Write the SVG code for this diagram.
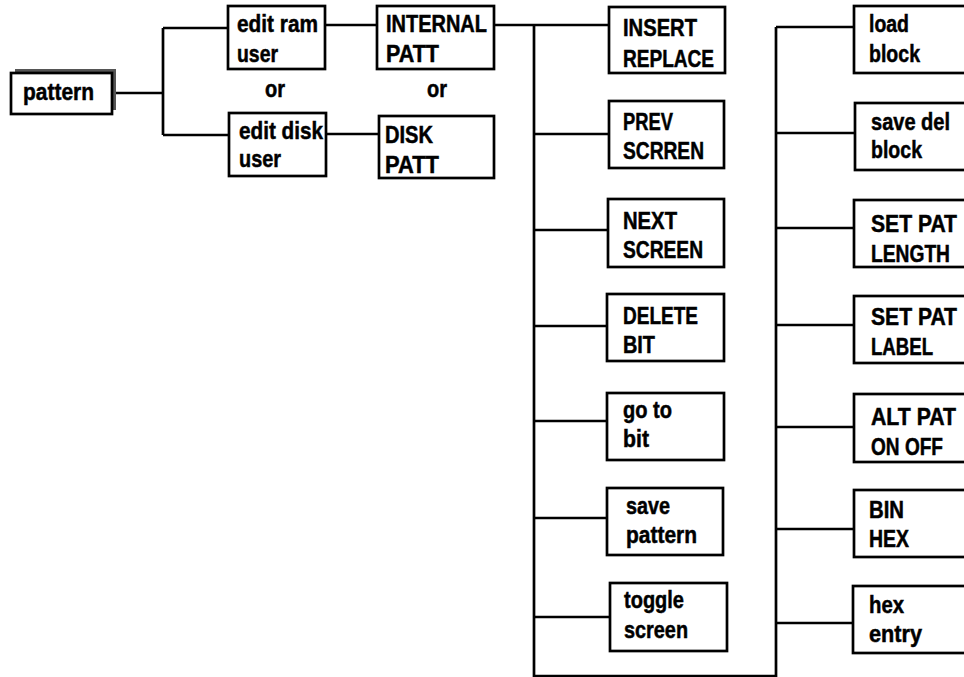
<svg xmlns="http://www.w3.org/2000/svg" width="964" height="677" viewBox="0 0 964 677">
<style>
.box{fill:#fff;stroke:#000;stroke-width:2.7}
.t{font-family:"Liberation Sans",Arial,sans-serif;font-weight:bold;font-size:24px;fill:#000;stroke:#000;stroke-width:0.5}
.c{fill:none;stroke:#000;stroke-width:2.7}
</style>
<rect width="964" height="677" fill="#fff"/>
<g id="connectors">
<path class="c" d="M112,93 H163 M163,28 V135 M163,28 H228 M163,135 H229"/>
<path class="c" d="M325,25 H377 M326,134 H379"/>
<path class="c" d="M494,25 H609 M534,25 V676 H776 V27"/>
<path class="c" d="M534,134 H609 M534,230 H608 M534,326 H607 M534,421 H607 M534,518 H607 M534,617 H610"/>
<path class="c" d="M776,27 H854 M776,133 H855 M776,228 H854 M776,325 H854 M776,427 H854 M776,529 H854 M776,623 H853"/>
</g>
<g id="pattern">
<rect x="15" y="69" width="101" height="41" fill="#555"/>
<rect class="box" x="11" y="73" width="101" height="41"/>
<text class="t" x="23" y="100" textLength="71" lengthAdjust="spacingAndGlyphs">pattern</text>
</g>
<g id="edit-ram">
<rect class="box" x="228" y="6" width="97" height="63"/>
<text class="t" x="237" y="32" textLength="81" lengthAdjust="spacingAndGlyphs">edit ram</text>
<text class="t" x="237" y="62" textLength="41" lengthAdjust="spacingAndGlyphs">user</text>
</g>
<g id="or1"><text class="t" x="265" y="97" textLength="20" lengthAdjust="spacingAndGlyphs">or</text></g>
<g id="edit-disk">
<rect class="box" x="229" y="113" width="97" height="63"/>
<text class="t" x="239" y="139" textLength="84" lengthAdjust="spacingAndGlyphs">edit disk</text>
<text class="t" x="239" y="167" textLength="42" lengthAdjust="spacingAndGlyphs">user</text>
</g>
<g id="internal-patt">
<rect class="box" x="377" y="6" width="117" height="63"/>
<text class="t" x="386" y="32" textLength="101" lengthAdjust="spacingAndGlyphs">INTERNAL</text>
<text class="t" x="386" y="62" textLength="53" lengthAdjust="spacingAndGlyphs">PATT</text>
</g>
<g id="or2"><text class="t" x="427" y="97" textLength="20" lengthAdjust="spacingAndGlyphs">or</text></g>
<g id="disk-patt">
<rect class="box" x="379" y="116" width="115" height="62"/>
<text class="t" x="385" y="143" textLength="48" lengthAdjust="spacingAndGlyphs">DISK</text>
<text class="t" x="385" y="173" textLength="54" lengthAdjust="spacingAndGlyphs">PATT</text>
</g>
<g id="insert-replace">
<rect class="box" x="609" y="7" width="116" height="66"/>
<text class="t" x="623" y="36" textLength="74" lengthAdjust="spacingAndGlyphs">INSERT</text>
<text class="t" x="623" y="67" textLength="91" lengthAdjust="spacingAndGlyphs">REPLACE</text>
</g>
<g id="prev-screen">
<rect class="box" x="609" y="101" width="115" height="67"/>
<text class="t" x="623" y="130" textLength="50" lengthAdjust="spacingAndGlyphs">PREV</text>
<text class="t" x="623" y="159" textLength="81" lengthAdjust="spacingAndGlyphs">SCRREN</text>
</g>
<g id="next-screen">
<rect class="box" x="608" y="199" width="116" height="68"/>
<text class="t" x="623" y="229" textLength="54" lengthAdjust="spacingAndGlyphs">NEXT</text>
<text class="t" x="623" y="258" textLength="80" lengthAdjust="spacingAndGlyphs">SCREEN</text>
</g>
<g id="delete-bit">
<rect class="box" x="607" y="294" width="117" height="67"/>
<text class="t" x="623" y="324" textLength="75" lengthAdjust="spacingAndGlyphs">DELETE</text>
<text class="t" x="623" y="353" textLength="32" lengthAdjust="spacingAndGlyphs">BIT</text>
</g>
<g id="go-to-bit">
<rect class="box" x="607" y="393" width="117" height="67"/>
<text class="t" x="623" y="418" textLength="49" lengthAdjust="spacingAndGlyphs">go to</text>
<text class="t" x="623" y="447" textLength="26" lengthAdjust="spacingAndGlyphs">bit</text>
</g>
<g id="save-pattern">
<rect class="box" x="607" y="488" width="116" height="67"/>
<text class="t" x="626" y="514" textLength="44" lengthAdjust="spacingAndGlyphs">save</text>
<text class="t" x="626" y="543" textLength="71" lengthAdjust="spacingAndGlyphs">pattern</text>
</g>
<g id="toggle-screen">
<rect class="box" x="610" y="583" width="117" height="68"/>
<text class="t" x="624" y="608" textLength="60" lengthAdjust="spacingAndGlyphs">toggle</text>
<text class="t" x="624" y="638" textLength="64" lengthAdjust="spacingAndGlyphs">screen</text>
</g>
<g id="load-block">
<rect class="box" x="854" y="6" width="120" height="67"/>
<text class="t" x="869" y="32" textLength="40" lengthAdjust="spacingAndGlyphs">load</text>
<text class="t" x="869" y="62" textLength="51" lengthAdjust="spacingAndGlyphs">block</text>
</g>
<g id="save-del-block">
<rect class="box" x="855" y="103" width="120" height="67"/>
<text class="t" x="871" y="130" textLength="79" lengthAdjust="spacingAndGlyphs">save del</text>
<text class="t" x="871" y="158" textLength="51" lengthAdjust="spacingAndGlyphs">block</text>
</g>
<g id="set-pat-length">
<rect class="box" x="854" y="200" width="120" height="67"/>
<text class="t" x="871" y="232" textLength="86" lengthAdjust="spacingAndGlyphs">SET PAT</text>
<text class="t" x="871" y="262" textLength="79" lengthAdjust="spacingAndGlyphs">LENGTH</text>
</g>
<g id="set-pat-label">
<rect class="box" x="854" y="296" width="120" height="67"/>
<text class="t" x="871" y="325" textLength="86" lengthAdjust="spacingAndGlyphs">SET PAT</text>
<text class="t" x="871" y="355" textLength="62" lengthAdjust="spacingAndGlyphs">LABEL</text>
</g>
<g id="alt-pat">
<rect class="box" x="854" y="394" width="120" height="68"/>
<text class="t" x="871" y="425" textLength="85" lengthAdjust="spacingAndGlyphs">ALT PAT</text>
<text class="t" x="871" y="455" textLength="72" lengthAdjust="spacingAndGlyphs">ON OFF</text>
</g>
<g id="bin-hex">
<rect class="box" x="854" y="490" width="120" height="67"/>
<text class="t" x="869" y="518" textLength="35" lengthAdjust="spacingAndGlyphs">BIN</text>
<text class="t" x="869" y="547" textLength="40" lengthAdjust="spacingAndGlyphs">HEX</text>
</g>
<g id="hex-entry">
<rect class="box" x="853" y="586" width="120" height="67"/>
<text class="t" x="869" y="613" textLength="35" lengthAdjust="spacingAndGlyphs">hex</text>
<text class="t" x="869" y="642" textLength="53" lengthAdjust="spacingAndGlyphs">entry</text>
</g>
</svg>
